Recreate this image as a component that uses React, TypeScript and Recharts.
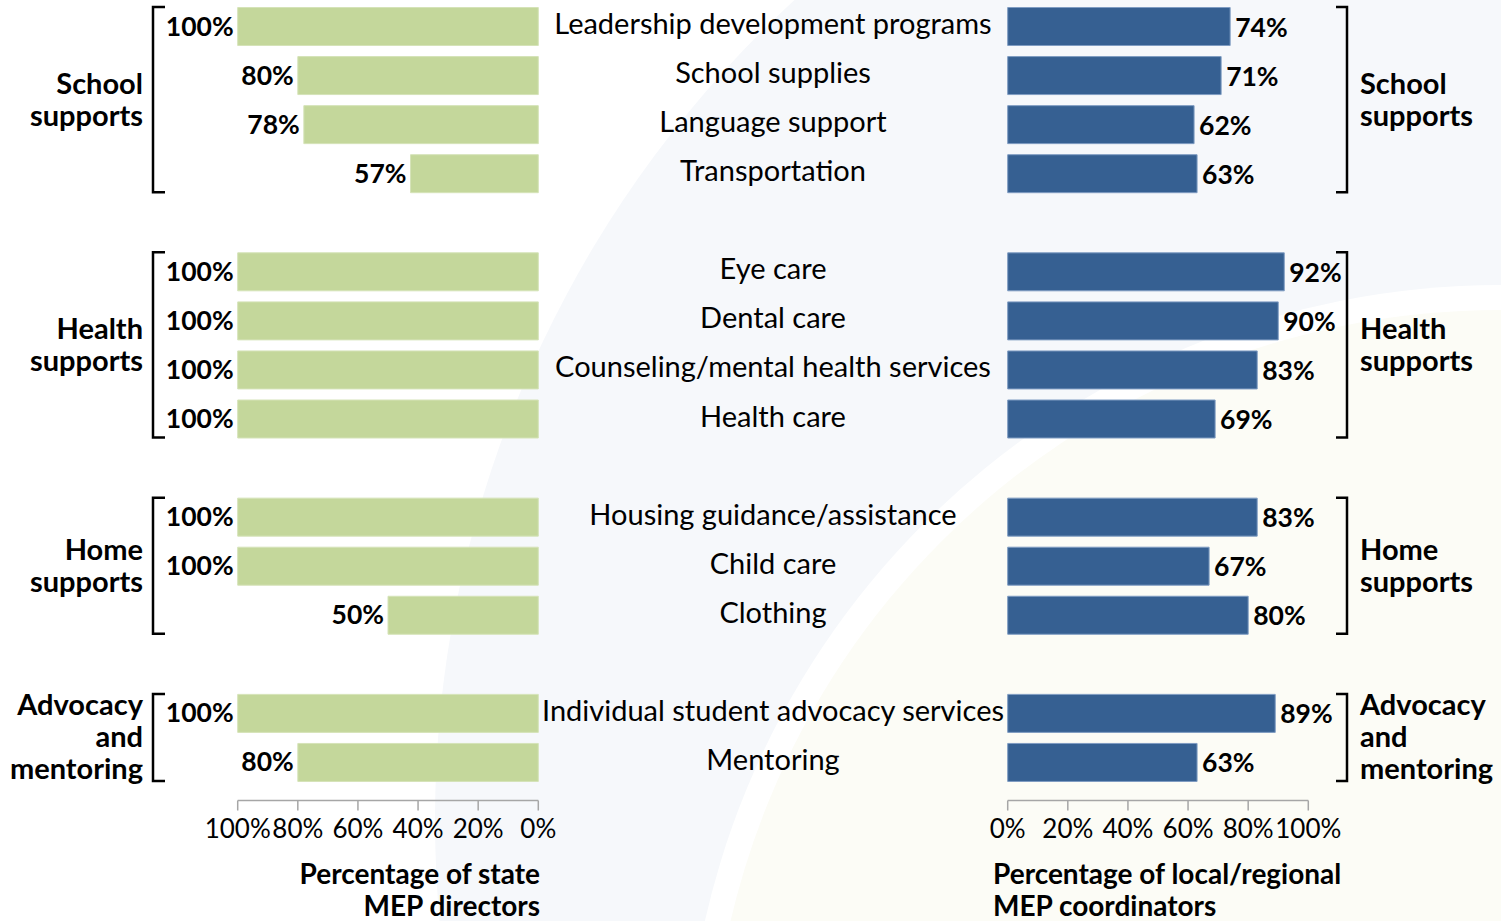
import React from 'react';
import { BarChart, Bar, XAxis, YAxis, LabelList } from 'recharts';

// ---------- data ----------
const categories = [
  'Leadership development programs',
  'School supplies',
  'Language support',
  'Transportation',
  '',
  'Eye care',
  'Dental care',
  'Counseling/mental health services',
  'Health care',
  '',
  'Housing guidance/assistance',
  'Child care',
  'Clothing',
  '',
  'Individual student advocacy services',
  'Mentoring',
];

// state MEP directors (bar lengths as drawn)
const stateValues = [100, 80, 78, 42.5, null, 100, 100, 100, 100, null, 100, 100, 50, null, 100, 80];
const stateLabels = ['100%', '80%', '78%', '57%', '', '100%', '100%', '100%', '100%', '', '100%', '100%', '50%', '', '100%', '80%'];

// local/regional MEP coordinators
const localValues = [74, 71, 62, 63, null, 92, 90, 83, 69, null, 83, 67, 80, null, 89, 63];
const localLabels = ['74%', '71%', '62%', '63%', '', '92%', '90%', '83%', '69%', '', '83%', '67%', '80%', '', '89%', '63%'];

const axisTicks = [0, 20, 40, 60, 80, 100];

const groups = [
  { lines: ['School', 'supports'], start: 0, end: 3 },
  { lines: ['Health', 'supports'], start: 5, end: 8 },
  { lines: ['Home', 'supports'], start: 10, end: 12 },
  { lines: ['Advocacy', 'and', 'mentoring'], start: 14, end: 15 },
];

const leftTitle = ['Percentage of state', 'MEP directors'];
const rightTitle = ['Percentage of local/regional', 'MEP coordinators'];

// ---------- layout ----------
const W = 1501;
const H = 921;
const FONT = "Lato, 'Open Sans', sans-serif";
const GREEN = '#c4d79b';
const BLUE = '#366092';
const MARGIN_TOP = 1.5;
const MARGIN_BOTTOM = 80.5;
const X_AXIS_H = 40;
const Y_PAD_BOTTOM = 14;
const BAR = 38;
const ROW_STEP = (H - MARGIN_TOP - MARGIN_BOTTOM - X_AXIS_H - Y_PAD_BOTTOM) / categories.length;

const LEFT_W = 560;
const LEFT_PLOT_L = 237.7;
const LEFT_PLOT_R = 538.3;
const LEFT_YAXIS_W = 20;
const RIGHT_X = 500;
const RIGHT_PLOT_L = 1007.7;
const RIGHT_PLOT_R = 1308.3;
const CENTER_X = 773;
const LINE_H = 32;

const rows = categories.map((c, i) => ({
  key: c || `gap${i}`,
  label: c,
  state: stateValues[i],
  stateLabel: stateLabels[i],
  local: localValues[i],
  localLabel: localLabels[i],
}));

const fmt = (v: number) => `${v}%`;

function indexOf(props: any): number {
  if (typeof props.index === 'number') return props.index;
  const v = props.payload?.value;
  return rows.findIndex((r) => r.key === v);
}

function GroupLabel({ g, y, x, anchor }: any) {
  const n = g.lines.length;
  const yTop = y - BAR / 2;
  const yBot = y + (g.end - g.start) * ROW_STEP + BAR / 2;
  const mid = (yTop + yBot) / 2;
  return (
    <text x={x} textAnchor={anchor} fontFamily={FONT} fontWeight={700} fontSize={29} fill="#000">
      {g.lines.map((l: string, k: number) => (
        <tspan key={k} x={x} y={mid + 10 + (k - (n - 1) / 2) * LINE_H}>
          {l}
        </tspan>
      ))}
    </text>
  );
}

function LeftTick(props: any) {
  const idx = indexOf(props);
  const y = props.y;
  const g = groups.find((gg) => gg.start === idx);
  if (!g) return <g />;
  const yTop = y - BAR / 2;
  const yBot = y + (g.end - g.start) * ROW_STEP + BAR / 2;
  return (
    <g>
      <path d={`M165,${yTop} H153 V${yBot} H165`} stroke="#000" strokeWidth={2.5} fill="none" />
      <GroupLabel g={g} y={y} x={143} anchor="end" />
    </g>
  );
}

function RightTick(props: any) {
  const idx = indexOf(props);
  const y = props.y;
  const row = rows[idx];
  const g = groups.find((gg) => gg.start === idx);
  const bx = 1347 - RIGHT_X;
  return (
    <g>
      {row && row.label ? (
        <text x={CENTER_X - RIGHT_X} y={y + 8} textAnchor="middle" fontFamily={FONT} fontSize={29} fill="#000">
          {row.label}
        </text>
      ) : null}
      {g ? (
        <g>
          <path
            d={`M${bx - 11},${y - BAR / 2} H${bx} V${y + (g.end - g.start) * ROW_STEP + BAR / 2} H${bx - 11}`}
            stroke="#000"
            strokeWidth={2.5}
            fill="none"
          />
          <GroupLabel g={g} y={y} x={1360 - RIGHT_X} anchor="start" />
        </g>
      ) : null}
    </g>
  );
}

function LeftValueLabel(props: any) {
  const { x, y, width, height, value } = props;
  if (!value) return null;
  const left = Math.min(Number(x), Number(x) + Number(width));
  return (
    <text x={left - 4} y={Number(y) + Number(height) / 2 + 9} textAnchor="end" fontFamily={FONT} fontWeight={700} fontSize={26.5} fill="#000">
      {value}
    </text>
  );
}

function RightValueLabel(props: any) {
  const { x, y, width, height, value } = props;
  if (!value) return null;
  const right = Math.max(Number(x), Number(x) + Number(width));
  return (
    <text x={right + 5} y={Number(y) + Number(height) / 2 + 10} textAnchor="start" fontFamily={FONT} fontWeight={700} fontSize={26.5} fill="#000">
      {value}
    </text>
  );
}

function Background() {
  return (
    <svg width={W} height={H} style={{ position: 'absolute', left: 0, top: 0 }}>
      <rect x={0} y={0} width={W} height={H} fill="#ffffff" />
      <circle cx={1550} cy={820} r={1115} fill="#f6f8fb" />
      <circle cx={1500} cy={1100} r={815} fill="#ffffff" />
      <circle cx={1500} cy={1100} r={790} fill="#fcfcf6" />
    </svg>
  );
}

export default function App() {
  return (
    <div style={{ position: 'absolute', left: 0, top: 0, width: W, height: H, overflow: 'hidden', background: '#fff' }}>
      <Background />
      <div style={{ position: 'absolute', left: 0, top: 0 }}>
        <BarChart
          width={LEFT_W}
          height={H}
          data={rows}
          layout="vertical"
          margin={{ top: MARGIN_TOP, right: LEFT_W - LEFT_PLOT_R, left: LEFT_PLOT_L - LEFT_YAXIS_W, bottom: MARGIN_BOTTOM }}
          barCategoryGap={0}
        >
          <XAxis
            type="number"
            domain={[0, 100]}
            reversed
            ticks={axisTicks}
            interval={0}
            tickFormatter={fmt}
            height={X_AXIS_H}
            axisLine={{ stroke: '#a6a6a6', strokeWidth: 1.5 }}
            tickLine={{ stroke: '#a6a6a6', strokeWidth: 1.5 }}
            tickSize={10}
            tickMargin={9}
            tick={{ fill: '#000', fontSize: 26, fontFamily: FONT }}
          />
          <YAxis
            type="category"
            dataKey="key"
            width={LEFT_YAXIS_W}
            axisLine={false}
            tickLine={false}
            interval={0}
            tick={<LeftTick />}
            padding={{ top: 0, bottom: Y_PAD_BOTTOM }}
          />
          <Bar dataKey="state" fill={GREEN} stroke="#d5e3b8" strokeWidth={1} barSize={BAR} isAnimationActive={false}>
            <LabelList dataKey="stateLabel" content={<LeftValueLabel />} />
          </Bar>
        </BarChart>
      </div>
      <div style={{ position: 'absolute', left: RIGHT_X, top: 0 }}>
        <BarChart
          width={W - RIGHT_X}
          height={H}
          data={rows}
          layout="vertical"
          margin={{ top: MARGIN_TOP, right: W - RIGHT_PLOT_R, left: 0, bottom: MARGIN_BOTTOM }}
          barCategoryGap={0}
        >
          <XAxis
            type="number"
            domain={[0, 100]}
            ticks={axisTicks}
            interval={0}
            tickFormatter={fmt}
            height={X_AXIS_H}
            axisLine={{ stroke: '#a6a6a6', strokeWidth: 1.5 }}
            tickLine={{ stroke: '#a6a6a6', strokeWidth: 1.5 }}
            tickSize={10}
            tickMargin={9}
            tick={{ fill: '#000', fontSize: 26, fontFamily: FONT }}
          />
          <YAxis
            type="category"
            dataKey="key"
            width={RIGHT_PLOT_L - RIGHT_X}
            axisLine={false}
            tickLine={false}
            interval={0}
            tick={<RightTick />}
            padding={{ top: 0, bottom: Y_PAD_BOTTOM }}
          />
          <Bar dataKey="local" fill={BLUE} stroke="#7f9cc2" strokeWidth={1} barSize={BAR} isAnimationActive={false}>
            <LabelList dataKey="localLabel" content={<RightValueLabel />} />
          </Bar>
        </BarChart>
      </div>
      <div
        style={{
          position: 'absolute',
          right: W - 540,
          top: 857,
          textAlign: 'right',
          fontFamily: FONT,
          fontWeight: 700,
          fontSize: 28,
          lineHeight: '32px',
          whiteSpace: 'nowrap',
          color: '#000',
        }}
      >
        {leftTitle.map((t, i) => (
          <div key={i}>{t}</div>
        ))}
      </div>
      <div
        style={{
          position: 'absolute',
          left: 993,
          top: 857,
          textAlign: 'left',
          fontFamily: FONT,
          fontWeight: 700,
          fontSize: 28,
          lineHeight: '32px',
          whiteSpace: 'nowrap',
          color: '#000',
        }}
      >
        {rightTitle.map((t, i) => (
          <div key={i}>{t}</div>
        ))}
      </div>
    </div>
  );
}
